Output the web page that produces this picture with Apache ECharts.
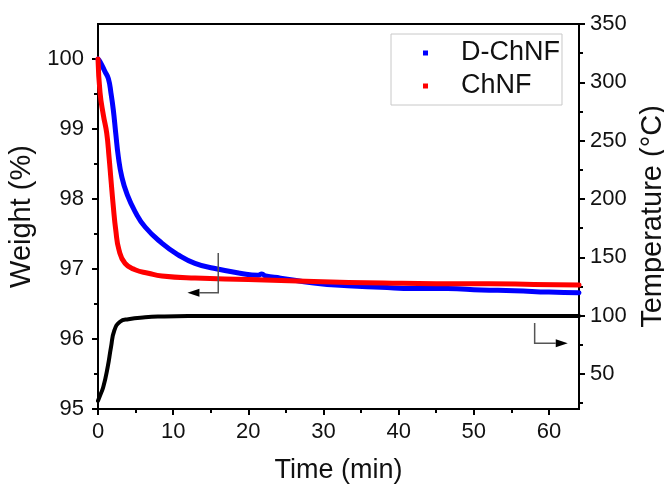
<!DOCTYPE html>
<html><head><meta charset="utf-8">
<script src="https://cdn.jsdelivr.net/npm/echarts@6/dist/echarts.min.js"></script>
<style>html,body{margin:0;padding:0;background:#fff}#c{width:664px;height:488px}</style>
</head><body><div id="c"></div>
<script>
// D-ChNF weight (%) vs time (min)
const dTime   = [0, 0.27, 0.93, 1.38, 1.73, 2.04, 2.36, 2.71, 3.16, 3.83, 4.93, 6.27, 8.49, 10.7, 12.9, 15.4, 18.9, 21.3, 21.8, 22.3, 24.3, 28.7, 33.2, 37.6, 42, 46.5, 51, 55.4, 60, 64];
const dWeight = [100.0, 99.96, 99.82, 99.72, 99.51, 99.27, 98.94, 98.6, 98.32, 98.08, 97.82, 97.6, 97.37, 97.2, 97.08, 97.01, 96.94, 96.91, 96.93, 96.9, 96.87, 96.8, 96.76, 96.74, 96.72, 96.72, 96.7, 96.69, 96.67, 96.66];
// ChNF weight (%) vs time (min)
const cTime   = [0, 0.27, 0.71, 1.16, 1.47, 1.73, 2.04, 2.36, 2.8, 3.6, 4.93, 6.7, 8.5, 12.9, 20, 28.7, 38, 45, 52, 58, 64];
const cWeight = [100.0, 99.52, 99.2, 98.94, 98.6, 98.27, 97.89, 97.56, 97.27, 97.08, 96.99, 96.94, 96.9, 96.87, 96.85, 96.82, 96.8, 96.79, 96.79, 96.78, 96.77];
// Temperature (°C) vs time (min)
const tTime = [0, 0.3, 0.71, 1.29, 1.73, 2.18, 2.93, 4.04, 6.27, 8.5, 12, 20, 30, 40, 50, 60, 64];
const tTemp = [27, 32, 39, 56, 73, 87.5, 94.8, 97, 98.6, 99.3, 99.7, 99.8, 99.8, 99.8, 99.8, 99.8, 99.8];

const seriesNames = ['D-ChNF', 'ChNF'];
const xMajorTicks = [0, 10, 20, 30, 40, 50, 60];
const xMinorTicks = [5, 15, 25, 35, 45, 55];
const wMajorTicks = [95, 96, 97, 98, 99, 100];
const wMinorTicks = [95.5, 96.5, 97.5, 98.5, 99.5];
const tMajorTicks = [50, 100, 150, 200, 250, 300, 350];
const tMinorTicks = [25, 75, 125, 175, 225, 275, 325];

const FONT = "'Liberation Sans', Arial, sans-serif";
const chart = echarts.init(document.getElementById('c'), null, {renderer: 'canvas'});
const pairs = (xs, ys) => xs.map((x, i) => [x, ys[i]]);
const lab = {fontFamily: FONT, fontSize: 22, color: '#111'};

function majorAxis(extra) {
  return Object.assign({
    type: 'value',
    splitLine: {show: false},
    axisLine: {show: true, onZero: false, lineStyle: {color: '#000', width: 2}},
    axisTick: {show: true, inside: false, length: 6, lineStyle: {color: '#000', width: 2}},
    axisLabel: Object.assign({}, lab),
    nameTextStyle: {fontFamily: FONT, color: '#111'}
  }, extra);
}
function minorAxis(extra, ticks) {
  return Object.assign({
    type: 'value',
    splitLine: {show: false},
    axisLine: {show: false, onZero: false},
    axisTick: {show: true, inside: false, length: 4, customValues: ticks, lineStyle: {color: '#000', width: 2}},
    axisLabel: {show: false}
  }, extra);
}

const xMain = majorAxis({position: 'bottom', min: 0, max: 64,
  name: 'Time (min)', nameLocation: 'middle', nameGap: 48,
  nameTextStyle: {fontFamily: FONT, fontSize: 27, color: '#111'}});
xMain.axisTick.customValues = xMajorTicks;
xMain.axisLabel.customValues = xMajorTicks;
xMain.axisLabel.margin = 12;

const yLeft = majorAxis({position: 'left', min: 95, max: 100.5,
  name: 'Weight (%)', nameLocation: 'middle', nameGap: 54,
  nameTextStyle: {fontFamily: FONT, fontSize: 29, color: '#111'}});
yLeft.axisTick.customValues = wMajorTicks;
yLeft.axisLabel.customValues = wMajorTicks;
yLeft.axisLabel.margin = 14;

const yRight = majorAxis({position: 'right', min: 20, max: 350,
  name: 'Temperature (°C)', nameLocation: 'middle', nameGap: 59,
  nameTextStyle: {fontFamily: FONT, fontSize: 29, color: '#111'}});
yRight.axisTick.customValues = tMajorTicks;
yRight.axisLabel.customValues = tMajorTicks;
yRight.axisLabel.margin = 11;

const lineSeries = (name, yIdx, xs, ys, color, width, z) => ({
  name, type: 'line', xAxisIndex: 0, yAxisIndex: yIdx, data: pairs(xs, ys),
  showSymbol: false, symbol: 'none', smooth: 0.5, color,
  lineStyle: {width, color, cap: 'round', join: 'round'}, z
});

chart.setOption({
  animation: false,
  backgroundColor: '#fff',
  grid: {left: 98, right: 85, top: 24, bottom: 79, show: true, borderColor: '#000', borderWidth: 2,
         containLabel: false, outerBoundsMode: 'none'},
  legend: {
    data: seriesNames, orient: 'vertical', left: 391, top: 34,
    icon: 'rect', itemWidth: 5, itemHeight: 5, itemGap: 3,
    padding: [4, 2, 4, 32],
    borderColor: '#c8c8c8', borderWidth: 1, backgroundColor: '#fff',
    textStyle: {fontFamily: FONT, fontSize: 27, color: '#111', lineHeight: 30, padding: [0, 0, 0, 28]}
  },
  xAxis: [xMain, minorAxis({position: 'bottom', min: 0, max: 64}, xMinorTicks)],
  yAxis: [yLeft, yRight,
    minorAxis({position: 'left', min: 95, max: 100.5}, wMinorTicks),
    minorAxis({position: 'right', min: 20, max: 350}, tMinorTicks)],
  series: [
    lineSeries(seriesNames[0], 0, dTime, dWeight, '#0000ff', 5, 3),
    lineSeries(seriesNames[1], 0, cTime, cWeight, '#ff0000', 5, 4),
    lineSeries('Temperature', 1, tTime, tTemp, '#000000', 4, 5)
  ]
});

// annotation arrows (placed in data coordinates of the weight axis)
const leftArrow  = {x: 16.0, yTop: 97.23, yBot: 96.66, tip: 11.9};
const rightArrow = {x: 58.1, yTop: 96.23, yBot: 95.94, tip: 62.5};
function arrow(a, dir) {
  const P = (x, y) => chart.convertToPixel({xAxisIndex: 0, yAxisIndex: 0}, [x, y]);
  const top = P(a.x, a.yTop), corner = P(a.x, a.yBot), tip = P(a.tip, a.yBot);
  const base = [tip[0] - dir * 12, tip[1]];
  return [
    {type: 'polyline', shape: {points: [top, corner, base]}, style: {stroke: '#555', lineWidth: 1.5, fill: null}, z: 10},
    {type: 'polygon', shape: {points: [tip, [base[0], base[1] - 4], [base[0], base[1] + 4]]}, style: {fill: '#000'}, z: 10}
  ];
}
chart.setOption({graphic: arrow(leftArrow, -1).concat(arrow(rightArrow, 1))});
</script></body></html>
